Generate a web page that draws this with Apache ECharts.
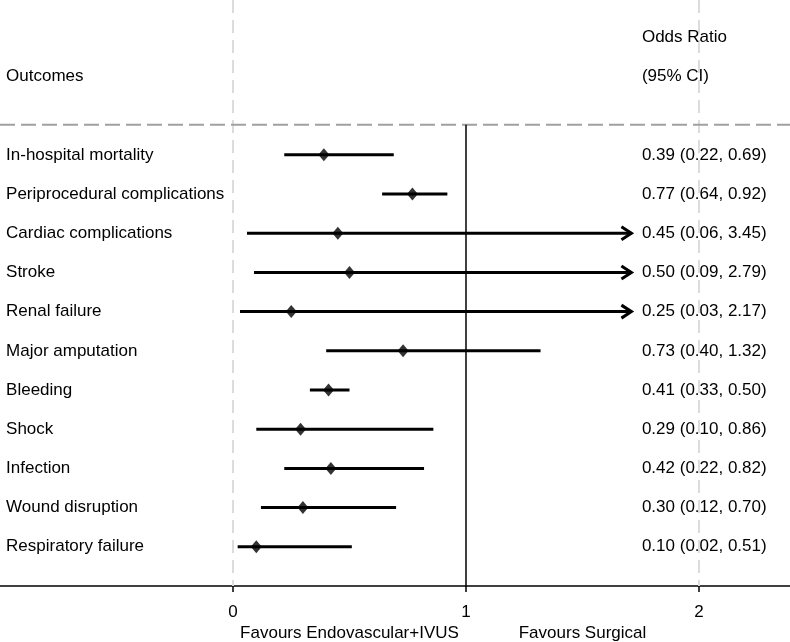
<!DOCTYPE html>
<html>
<head>
<meta charset="utf-8">
<script src="https://cdn.jsdelivr.net/npm/echarts@6/dist/echarts.min.js"></script>
<style>html,body{margin:0;padding:0;background:#fff}#c{width:790px;height:642px}</style>
</head>
<body>
<div id="c"></div>
<script>
const outcomes = ["In-hospital mortality","Periprocedural complications","Cardiac complications","Stroke","Renal failure","Major amputation","Bleeding","Shock","Infection","Wound disruption","Respiratory failure"];
const oddsRatio = [0.39,0.77,0.45,0.50,0.25,0.73,0.41,0.29,0.42,0.30,0.10];
const lowerCI = [0.22,0.64,0.06,0.09,0.03,0.40,0.33,0.10,0.22,0.12,0.02];
const upperCI = [0.69,0.92,3.45,2.79,2.17,1.32,0.50,0.86,0.82,0.70,0.51];
const xTicks = [0,1,2];
const favourLabels = [{x:0.5,text:"Favours Endovascular+IVUS"},{x:1.5,text:"Favours Surgical"}];
const clipMax = 1.71;

const FONT = '"Liberation Sans", Arial, Helvetica, sans-serif';
const FS = 17;
const fmt = v => v.toFixed(2);
const orText = oddsRatio.map((v,i)=>`${fmt(v)} (${fmt(lowerCI[i])}, ${fmt(upperCI[i])})`);

const rows = outcomes.map((o,i)=>[i, oddsRatio[i], lowerCI[i], upperCI[i]]);

const chart = echarts.init(document.getElementById('c'), null, {renderer:'canvas'});
const option = {
  animation:false,
  backgroundColor:'#fff',
  grid:{left:0,right:0,top:0,bottom:56,containLabel:false},
  xAxis:{
    type:'value', min:-1, max:2.3906,
    axisLine:{show:true,onZero:false,lineStyle:{color:'#000',width:1.5}},
    axisTick:{show:true,customValues:xTicks,length:6,lineStyle:{color:'#000',width:1.5}},
    axisLabel:{show:true,customValues:xTicks,margin:18,color:'#000',fontSize:FS,fontFamily:FONT},
    splitLine:{show:false}
  },
  yAxis:{
    type:'value', min:-3.95, max:11, inverse:true, show:false
  },
  series:[
    { // reference lines
      type:'custom', silent:true, z:1, clip:false,
      data:[[0]],
      renderItem:(params,api)=>{
        const top = api.coord([0,-3.95])[1];
        const bot = api.coord([0,11])[1];
        const hy = api.coord([0,-0.77])[1];
        const x0 = api.coord([0,0])[0];
        const x1 = api.coord([1,0])[0];
        const x2 = api.coord([2,0])[0];
        const left = api.coord([-1,0])[0];
        const right = api.coord([2.3906,0])[0];
        const light = {stroke:'#dcdcdc',lineWidth:2,lineDash:[13,7]};
        return {type:'group',children:[
          {type:'line',shape:{x1:x0,y1:top,x2:x0,y2:bot},style:light},
          {type:'line',shape:{x1:x2,y1:top,x2:x2,y2:bot},style:light},
          {type:'line',shape:{x1:left,y1:hy,x2:right,y2:hy},style:{stroke:'#a0a0a0',lineWidth:2,lineDash:[15,6]}},
          {type:'line',shape:{x1:x1,y1:hy,x2:x1,y2:bot},style:{stroke:'#000',lineWidth:1.5}}
        ]};
      }
    },
    { // CI lines
      type:'custom', z:3,
      data:rows,
      renderItem:(params,api)=>{
        const i = api.value(0), lo = api.value(2), hi = api.value(3);
        const clipped = hi > clipMax;
        const p1 = api.coord([lo,i]);
        const p2 = api.coord([clipped?clipMax:hi,i]);
        const children = [{type:'line',shape:{x1:p1[0],y1:p1[1],x2:p2[0],y2:p2[1]},style:{stroke:'#000',lineWidth:3}}];
        if(clipped){
          children.push({type:'polyline',shape:{points:[[p2[0]-10,p2[1]-6.5],[p2[0],p2[1]],[p2[0]-10,p2[1]+6.5]]},style:{stroke:'#000',lineWidth:3,fill:null,lineJoin:'miter'}});
        }
        return {type:'group',children};
      }
    },
    { // point estimates
      type:'scatter', z:4,
      symbol:'diamond', symbolSize:[11,13],
      itemStyle:{color:'#000'},
      data:oddsRatio.map((v,i)=>[v,i])
    },
    { // text
      type:'custom', z:5, clip:false, silent:true,
      data:rows,
      renderItem:(params,api)=>{
        const i = api.value(0);
        const pl = api.coord([-0.974,i]);
        const pr = api.coord([1.755,i]);
        const st = {fill:'#000',font:`${FS}px ${FONT}`,textVerticalAlign:'middle',textAlign:'left'};
        return {type:'group',children:[
          {type:'text',x:pl[0],y:pl[1],style:Object.assign({text:outcomes[i]},st)},
          {type:'text',x:pr[0],y:pr[1],style:Object.assign({text:orText[i]},st)}
        ]};
      }
    },
    { // headers & favours labels
      type:'custom', z:5, clip:false, silent:true,
      data:[[0]],
      renderItem:(params,api)=>{
        const st = {fill:'#000',font:`${FS}px ${FONT}`,textVerticalAlign:'middle',textAlign:'left'};
        const h1 = api.coord([-0.974,-2]);
        const h2 = api.coord([1.755,-3]);
        const h3 = api.coord([1.755,-2]);
        const children = [
          {type:'text',x:h1[0],y:h1[1],style:Object.assign({text:'Outcomes'},st)},
          {type:'text',x:h2[0],y:h2[1],style:Object.assign({text:'Odds Ratio'},st)},
          {type:'text',x:h3[0],y:h3[1],style:Object.assign({text:'(95% CI)'},st)}
        ];
        favourLabels.forEach(f=>{
          const p = api.coord([f.x,12.2]);
          children.push({type:'text',x:p[0],y:p[1],style:Object.assign({text:f.text},st,{textAlign:'center'})});
        });
        return {type:'group',children};
      }
    }
  ]
};
chart.setOption(option);
</script>
</body>
</html>
